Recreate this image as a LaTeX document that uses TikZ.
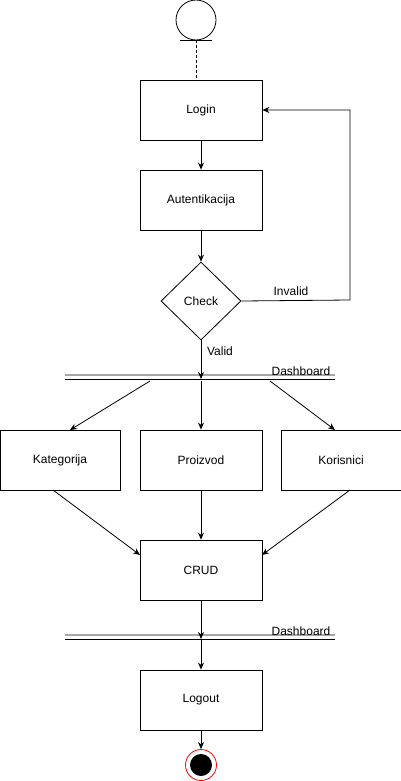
\documentclass[tikz,border=0pt]{standalone}
\usepackage{fontspec}
\setmainfont{Liberation Sans}
\usetikzlibrary{shapes.geometric,arrows.meta}
\begin{document}
\begin{tikzpicture}[x=1pt,y=-1pt,
  box/.style={draw,line width=0.8pt,minimum width=122pt,minimum height=60pt,inner sep=0pt,font=\fontsize{12}{14}\selectfont},
  dec/.style={draw,diamond,aspect=1,line width=0.8pt,minimum width=80pt,minimum height=78pt,inner sep=0pt,font=\fontsize{12}{14}\selectfont},
  lbl/.style={font=\fontsize{12}{14}\selectfont,inner sep=1pt},
  arr/.style={draw,line width=0.8pt,-{Stealth[length=7pt,width=6pt]}},
  ln/.style={draw,line width=0.8pt}]
\useasboundingbox (0,0) rectangle (401,781);
% start
\node[draw,circle,minimum size=40pt,inner sep=0pt,line width=0.8pt] (start) at (196,20) {};
\coordinate (sbl) at (180,40); \coordinate (sbr) at (212,40); \coordinate (sb) at (196,40);
\draw[ln] (sbl) -- (sbr);
\node[box] (login) at (201,110) {Login};
\draw[ln,dashed,dash pattern=on 3pt off 2pt] (sb) -- (sb |- login.north);
\node[box] (auth) at (201,200) {Autentikacija};
\node[dec] (check) at (201,301) {Check};
\draw[arr] (login) -- (auth);
\draw[arr] (auth) -- (check.north);
\coordinate (inv) at (350,300);
\draw[arr] (check.east) -- (inv) -- (inv |- login.east) -- (login.east);
\node[lbl] at (291,291) {Invalid};
% bar 1
\coordinate (b1l) at (65,379); \coordinate (b1r) at (335,379);
\draw[line width=0.8pt] (b1l) -- (b1r);
\draw[line width=1.2pt,gray!70] ([yshift=4pt]b1l) -- ([yshift=4pt]b1r);
\node[lbl] at (301,371) {Dashboard};
\coordinate (b1c) at (201,379);
\draw[arr] (check.south) -- (b1c);
\node[lbl] at (220,351) {Valid};
\node[box,minimum width=120pt] (kat) at (60,460) {Kategorija};
\node[box] (pro) at (201,460) {Proizvod};
\node[box,minimum width=120pt] (kor) at (341,460) {Korisnici};
\coordinate (b1a) at (150,381); \coordinate (b1b) at (201,381); \coordinate (b1d) at (270,381);
\draw[arr] (b1a) -- (70,430);
\draw[arr] (b1b) -- (pro.north);
\draw[arr] (b1d) -- (335,430);
\node[box] (crud) at (201,570) {CRUD};
\draw[arr] (53,490) -- (140,555);
\draw[arr] (pro.south) -- (crud.north);
\draw[arr] (350,490) -- (262,555);
% bar 2
\coordinate (b2l) at (65,639); \coordinate (b2r) at (335,639);
\draw[line width=0.8pt] (b2l) -- (b2r);
\draw[line width=1.2pt,gray!70] ([yshift=4pt]b2l) -- ([yshift=4pt]b2r);
\node[lbl] at (301,631) {Dashboard};
\coordinate (b2c) at (201,639);
\draw[arr] (crud.south) -- (b2c);
\node[box] (logout) at (201,700) {Logout};
\draw[arr] (b2c) -- (logout.north);
% end
\node[draw=red,circle,minimum size=31pt,inner sep=0pt,line width=0.8pt] (end) at (201,765) {};
\fill[black] (end.center) circle (11pt);
\draw[arr] (logout.south) -- (end.north);
\end{tikzpicture}
\end{document}
